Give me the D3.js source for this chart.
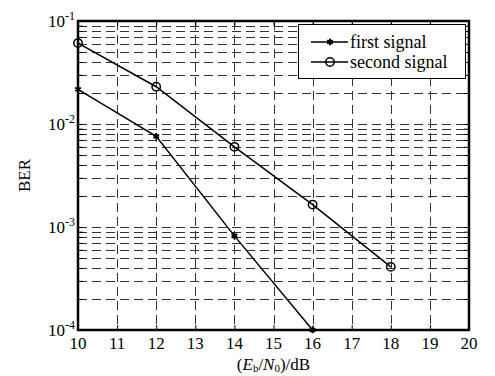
<!DOCTYPE html>
<html>
<head>
<meta charset="utf-8">
<script src="https://cdn.jsdelivr.net/npm/d3@7"></script>
<style>
  body { margin: 0; background: #fff; }
  svg { display: block; font-family: "Liberation Serif", "Times New Roman", serif; }
</style>
</head>
<body>
<svg id="chart" width="495" height="376"></svg>
<script>
// data
var snrFirst = [10, 12, 14, 16];
var berFirst = [0.0217, 0.0076, 0.00082, 0.0001];
var snrSecond = [10, 12, 14, 16, 18];
var berSecond = [0.061, 0.023, 0.0060, 0.00165, 0.00041];
var seriesNames = ["first signal", "second signal"];
var xTicks = [10, 11, 12, 13, 14, 15, 16, 17, 18, 19, 20];
var yDecades = [1e-4, 1e-3, 1e-2, 1e-1];
var yDecadeExp = ["-4", "-3", "-2", "-1"];

var svg = d3.select("#chart");

// plot box (note: "top" is reserved on window, so use prefixed names)
var pLeft = 78, pRight = 469, pTop = 21, pBottom = 330;

var x = d3.scaleLinear().domain([10, 20]).range([pLeft, pRight]);
var y = d3.scaleLog().domain([1e-4, 1e-1]).range([pBottom, pTop]);

// all log ticks (decades + minors)
var yAll = [];
for (var d = 0; d < yDecades.length - 1; d++) {
  for (var m = 1; m <= 9; m++) yAll.push(yDecades[d] * m);
}
yAll.push(1e-1);

// grid
var grid = svg.append("g")
  .attr("stroke", "#333")
  .attr("stroke-width", 1)
  .attr("stroke-dasharray", "9,5")
  .attr("fill", "none");

grid.selectAll("line.h")
  .data(yAll.filter(function (v) { return v > 1e-4 && v < 1e-1; }))
  .enter().append("line")
  .attr("x1", pLeft).attr("x2", pRight)
  .attr("y1", function (v) { return Math.round(y(v)) + 0.5; })
  .attr("y2", function (v) { return Math.round(y(v)) + 0.5; });

grid.selectAll("line.v")
  .data(xTicks.slice(1, -1))
  .enter().append("line")
  .attr("y1", pTop).attr("y2", pBottom)
  .attr("x1", function (v) { return Math.round(x(v)) + 0.5; })
  .attr("x2", function (v) { return Math.round(x(v)) + 0.5; });

// axes with inward ticks
var axes = svg.append("g");
axes.append("g")
  .attr("transform", "translate(0," + pBottom + ")")
  .call(d3.axisBottom(x).tickValues(xTicks).tickSize(-5).tickFormat(""));
axes.append("g")
  .attr("transform", "translate(0," + pTop + ")")
  .call(d3.axisTop(x).tickValues(xTicks).tickSize(-5).tickFormat(""));
axes.append("g")
  .attr("transform", "translate(" + pLeft + ",0)")
  .call(d3.axisLeft(y).tickValues(yAll).tickSize(-5).tickFormat(""));
axes.append("g")
  .attr("transform", "translate(" + pRight + ",0)")
  .call(d3.axisRight(y).tickValues(yAll).tickSize(-5).tickFormat(""));
axes.selectAll(".domain").remove();
axes.selectAll(".tick line").attr("stroke", "#000").attr("stroke-width", 1);

// frame
svg.append("rect")
  .attr("x", pLeft).attr("y", pTop)
  .attr("width", pRight - pLeft).attr("height", pBottom - pTop)
  .attr("fill", "none").attr("stroke", "#000").attr("stroke-width", 2.5);

// x tick labels
svg.append("g").selectAll("text")
  .data(xTicks)
  .enter().append("text")
  .attr("x", function (v) { return x(v); })
  .attr("y", 349)
  .attr("text-anchor", "middle")
  .attr("font-size", 17)
  .text(function (v) { return v; });

// y tick labels 10^n
var yl = svg.append("g").selectAll("text")
  .data(yDecades)
  .enter().append("text")
  .attr("x", 75)
  .attr("y", function (v) { return y(v) + 6; })
  .attr("text-anchor", "end")
  .attr("font-size", 17);
yl.append("tspan").text("10");
yl.append("tspan")
  .attr("dy", -7)
  .attr("font-size", 12)
  .text(function (v, i) { return yDecadeExp[i]; });

// axis titles
svg.append("text")
  .attr("transform", "translate(30," + ((pTop + pBottom) / 2) + ") rotate(-90)")
  .attr("text-anchor", "middle")
  .attr("font-size", 17)
  .text("BER");

var xt = svg.append("text")
  .attr("x", (pLeft + pRight) / 2)
  .attr("y", 370)
  .attr("text-anchor", "middle")
  .attr("font-size", 17);
xt.append("tspan").text("(");
xt.append("tspan").attr("font-style", "italic").text("E");
xt.append("tspan").attr("font-size", 11).attr("dy", 2).text("b");
xt.append("tspan").attr("dy", -2).text("/");
xt.append("tspan").attr("font-style", "italic").text("N");
xt.append("tspan").attr("font-size", 11).attr("dy", 2).text("0");
xt.append("tspan").attr("dy", -2).text(")/dB");

// series
var line = d3.line()
  .x(function (p) { return x(p[0]); })
  .y(function (p) { return y(p[1]); });

var first = d3.zip(snrFirst, berFirst);
var second = d3.zip(snrSecond, berSecond);

var plot = svg.append("g");
plot.append("path").datum(first)
  .attr("d", line).attr("fill", "none").attr("stroke", "#000").attr("stroke-width", 1.5);
plot.append("path").datum(second)
  .attr("d", line).attr("fill", "none").attr("stroke", "#000").attr("stroke-width", 1.5);

var star = d3.symbol().type(d3.symbolAsterisk).size(30);
var circ = d3.symbol().type(d3.symbolCircle).size(55);

plot.selectAll("path.s1").data(first).enter().append("path")
  .attr("d", star)
  .attr("transform", function (p) { return "translate(" + x(p[0]) + "," + y(p[1]) + ")"; })
  .attr("fill", "none").attr("stroke", "#000").attr("stroke-width", 2);
plot.selectAll("path.s2").data(second).enter().append("path")
  .attr("d", circ)
  .attr("transform", function (p) { return "translate(" + x(p[0]) + "," + y(p[1]) + ")"; })
  .attr("fill", "none").attr("stroke", "#000").attr("stroke-width", 1.5);

// legend
var lg = svg.append("g");
lg.append("rect")
  .attr("x", 298.5).attr("y", 24.5).attr("width", 167).attr("height", 54)
  .attr("fill", "#fff").attr("stroke", "#000").attr("stroke-width", 1);
var rows = lg.selectAll("g.row").data(seriesNames).enter().append("g")
  .attr("transform", function (n, i) { return "translate(0," + (42 + i * 20) + ")"; });
rows.append("line")
  .attr("x1", 311).attr("x2", 348).attr("y1", 0).attr("y2", 0)
  .attr("stroke", "#000").attr("stroke-width", 1.5);
rows.append("path")
  .attr("d", function (n, i) { return i === 0 ? star() : circ(); })
  .attr("transform", "translate(330,0)")
  .attr("fill", "none").attr("stroke", "#000").attr("stroke-width", function (n, i) { return i === 0 ? 2 : 1.5; });
rows.append("text")
  .attr("x", 350).attr("y", 6)
  .attr("font-size", 18)
  .text(function (n) { return n; });
</script>
</body>
</html>
